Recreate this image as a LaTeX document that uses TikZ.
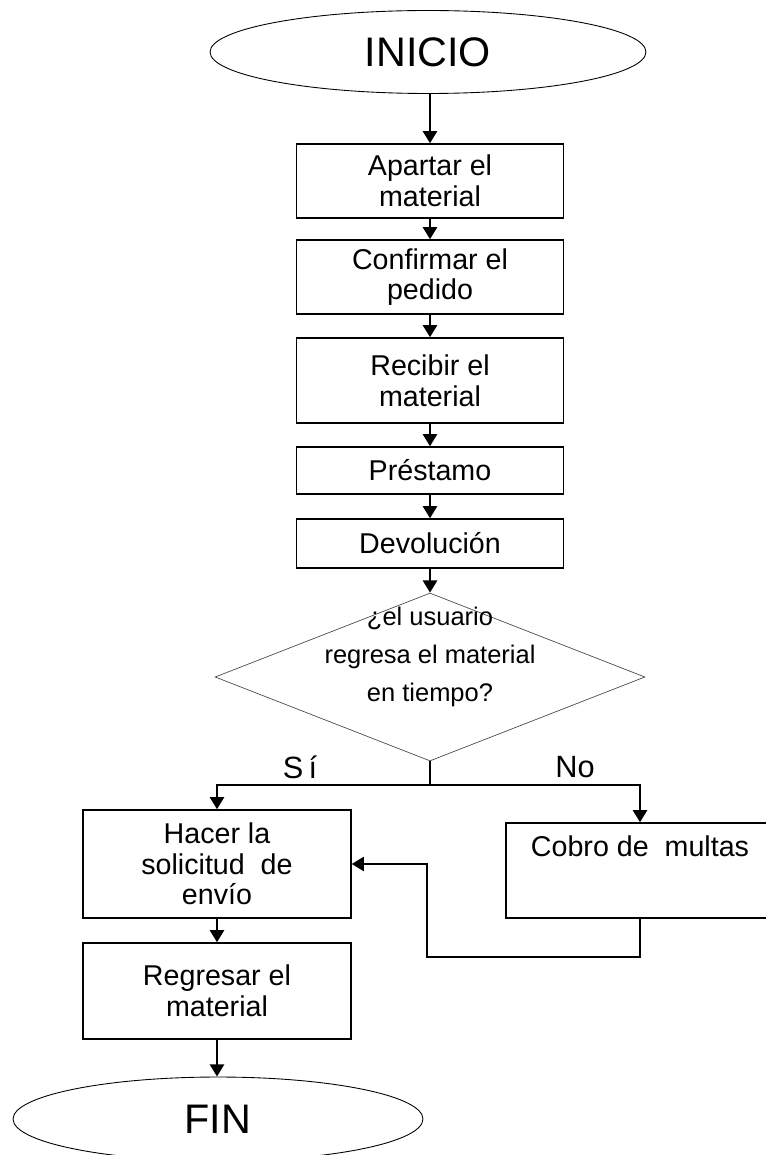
\documentclass[tikz,border=0pt]{standalone}
\usepackage{fontspec}
\setmainfont{Liberation Sans}
\usetikzlibrary{shapes.geometric,arrows.meta}
\begin{document}
\begin{tikzpicture}[x=0.02cm,y=-0.02cm]
       \tikzstyle{terminal}=[ellipse, draw, line width=0.5pt, inner sep=0pt, font=\fontsize{23.5}{26}\selectfont]
       \tikzstyle{proceso}=[rectangle, draw, line width=0.8pt, minimum width=5.34cm, inner sep=2pt, align=center, font=\fontsize{16.3}{17.5}\selectfont]
       \tikzstyle{decision}=[diamond, draw=black!70, line width=0.4pt, inner sep=0pt, minimum width=8.6cm, minimum height=3.36cm]
       \tikzstyle{flecha}=[draw, line width=1.6pt, -{Triangle[width=8pt,length=7pt]}]
       \useasboundingbox (0,0) rectangle (766,1155);
       \node[terminal, minimum width=8.72cm, minimum height=1.66cm] (inicio) at (428,52) {INICIO};
       \node[proceso, minimum height=1.48cm] (apartar) at (430,181) {Apartar el\\material};
       \node[proceso, minimum height=1.48cm] (confirmar) at (430,277) {Confirmar el\\pedido};
       \node[proceso, minimum height=1.7cm] (recibir) at (430,380.5) {Recibir el\\material};
       \node[proceso, minimum height=0.94cm] (prestamo) at (430,470.5) {Préstamo};
       \node[proceso, minimum height=0.98cm] (devolucion) at (430,543.5) {Devolución};
       \node[decision] (pregunta) at (430,677) {};
       \node[align=center, font=\fontsize{14.5}{21.5}\selectfont] (preguntatxt) at (430,657) {¿el usuario\\regresa el material\\en tiempo?};
       \node[font=\fontsize{17.5}{20}\selectfont] (si) at (300,767) {S\,í};
       \node[font=\fontsize{17.5}{20}\selectfont] (no) at (575,767) {No};
       \coordinate (rama) at (430,785);
       \node[proceso, minimum width=5.36cm, minimum height=2.16cm] (hacer) at (217,864) {Hacer la\\solicitud\ \ de\\envío};
       \node[proceso, minimum width=5.36cm, minimum height=1.9cm] (cobro) at (640,870.5) {Cobro de\ \ multas\\[10pt]\mbox{}};
       \node[proceso, minimum width=5.36cm, minimum height=1.92cm] (regresar) at (217,991) {Regresar el\\material};
       \node[terminal, minimum width=8.2cm, minimum height=1.68cm] (fin) at (218,1119) {FIN};
       \coordinate (retorno) at (427,957);
       % flujo principal
       \draw[flecha] (inicio.south -| apartar.north) -- (apartar.north);
       \draw[flecha] (apartar) -- (confirmar);
       \draw[flecha] (confirmar) -- (recibir);
       \draw[flecha] (recibir) -- (prestamo);
       \draw[flecha] (prestamo) -- (devolucion);
       \draw[flecha] (devolucion) -- (pregunta);
       % ramas
       \draw[flecha] (pregunta.south) -- (rama) -| (hacer.north);
       \draw[flecha] (rama) -| (cobro.north);
       \draw[flecha] (cobro.south) |- (retorno) |- (hacer.east);
       \draw[flecha] (hacer) -- (regresar);
       \draw[flecha] (regresar.south) -- (regresar.south |- fin.north);
\end{tikzpicture}
\end{document}
